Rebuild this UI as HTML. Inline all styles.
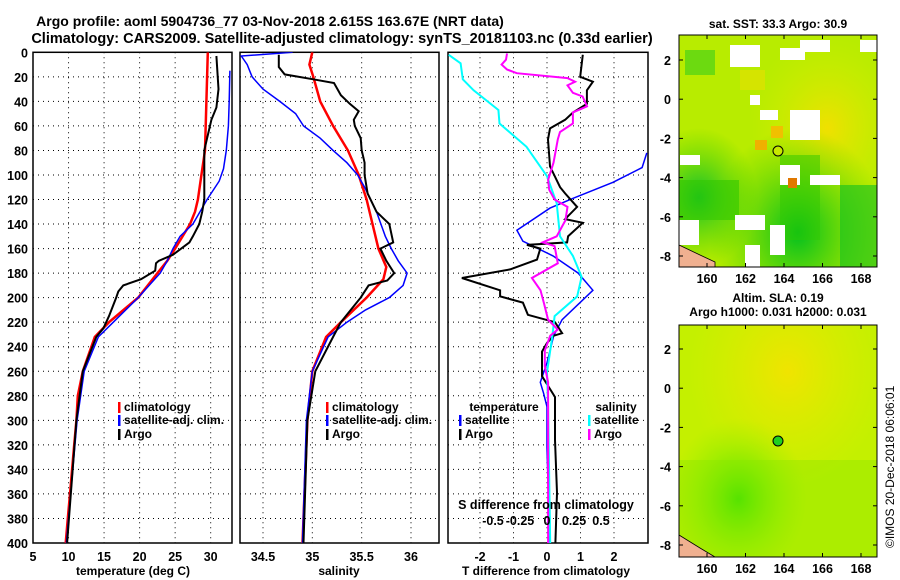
<!DOCTYPE html>
<html><head><meta charset="utf-8"><style>
body{margin:0;background:#fff;}
svg{display:block;font-family:"Liberation Sans",sans-serif;font-weight:bold;}
</style></head><body>
<svg id="c" width="900" height="580" xmlns="http://www.w3.org/2000/svg">
<defs>
<radialGradient id="m2a" cx="0.55" cy="0.2" r="0.5"><stop offset="0" stop-color="#f0e400"/><stop offset="1" stop-color="#e0ec00" stop-opacity="0"/></radialGradient>
<radialGradient id="m2b" cx="0.3" cy="0.75" r="0.35"><stop offset="0" stop-color="#40e000"/><stop offset="1" stop-color="#90f000" stop-opacity="0"/></radialGradient>
<radialGradient id="m1a" cx="0.75" cy="0.4" r="0.4"><stop offset="0" stop-color="#f0e000"/><stop offset="1" stop-color="#d0f000" stop-opacity="0"/></radialGradient>
<radialGradient id="m1b" cx="0.6" cy="0.85" r="0.45"><stop offset="0" stop-color="#00c020"/><stop offset="1" stop-color="#40d000" stop-opacity="0"/></radialGradient>
<radialGradient id="m1c" cx="0.1" cy="0.7" r="0.3"><stop offset="0" stop-color="#10c030"/><stop offset="1" stop-color="#40d000" stop-opacity="0"/></radialGradient>
</defs>
<text x="270" y="26" font-size="14" text-anchor="middle">Argo profile: aoml 5904736_77 03-Nov-2018 2.615S 163.67E (NRT data)</text>
<text x="342" y="43" font-size="14.5" text-anchor="middle">Climatology: CARS2009. Satellite-adjusted climatology: synTS_20181103.nc (0.33d earlier)</text>
<g id="p1"></g>
<g id="p2"></g>
<g id="p3"></g>

<g>
<text x="778" y="28" font-size="12" text-anchor="middle">sat. SST: 33.3 Argo: 30.9</text>
<rect x="679" y="35" width="198" height="232" fill="#b8ec00"/>
<rect x="679" y="35" width="198" height="232" fill="url(#m1a)"/>
<rect x="679" y="35" width="198" height="232" fill="url(#m1b)"/>
<rect x="679" y="35" width="198" height="232" fill="url(#m1c)"/>
<rect x="679" y="180" width="60" height="40" fill="#30c800" opacity="0.6"/>
<rect x="780" y="155" width="40" height="85" fill="#30c800" opacity="0.5"/>
<rect x="840" y="185" width="37" height="82" fill="#10c020" opacity="0.6"/>
<rect x="685" y="50" width="30" height="25" fill="#20c820" opacity="0.5"/>
<rect x="740" y="70" width="25" height="20" fill="#e8e000" opacity="0.6"/>
<rect x="730" y="45" width="30" height="22" fill="#fff"/>
<rect x="780" y="48" width="25" height="12" fill="#fff"/>
<rect x="800" y="40" width="30" height="12" fill="#fff"/>
<rect x="750" y="95" width="10" height="10" fill="#fff"/>
<rect x="760" y="110" width="18" height="10" fill="#fff"/>
<rect x="790" y="110" width="30" height="30" fill="#fff"/>
<rect x="680" y="155" width="20" height="10" fill="#fff"/>
<rect x="780" y="165" width="20" height="20" fill="#fff"/>
<rect x="810" y="175" width="30" height="10" fill="#fff"/>
<rect x="679" y="220" width="20" height="25" fill="#fff"/>
<rect x="735" y="215" width="30" height="15" fill="#fff"/>
<rect x="745" y="245" width="15" height="22" fill="#fff"/>
<rect x="770" y="225" width="15" height="30" fill="#fff"/>
<rect x="860" y="40" width="17" height="12" fill="#fff"/>
<rect x="771" y="126" width="12" height="12" fill="#f0c000"/>
<rect x="788" y="178" width="9" height="10" fill="#e07800"/>
<rect x="755" y="140" width="12" height="10" fill="#f0b000"/>
<path d="M679,245 L700,255 L715,262 L715,267 L679,267Z" fill="#f0b090" stroke="#000" stroke-width="0.8"/>
<rect x="679" y="35" width="198" height="232" fill="none" stroke="#000"/>
<circle cx="778" cy="151" r="5" fill="#c8e800" stroke="#000"/>
</g>
<g>
<text x="778" y="302" font-size="12" text-anchor="middle">Altim. SLA: 0.19</text>
<text x="778" y="316" font-size="12" text-anchor="middle">Argo h1000: 0.031 h2000: 0.031</text>
<rect x="679" y="325" width="198" height="232" fill="#c4f000"/>
<rect x="679" y="325" width="198" height="232" fill="url(#m2a)"/>
<rect x="679" y="325" width="198" height="232" fill="url(#m2b)"/>
<rect x="679" y="460" width="198" height="97" fill="#80e800" opacity="0.35"/>
<path d="M679,535 L700,548 L715,557 L679,557Z" fill="#f0b090" stroke="#000" stroke-width="0.8"/>
<rect x="679" y="325" width="198" height="232" fill="none" stroke="#000"/>
<circle cx="778" cy="441" r="5" fill="#20d020" stroke="#000"/>
</g>
<g id="maxes"></g>
<text x="0" y="0" font-size="12" font-weight="normal" transform="translate(894,548) rotate(-90)">©IMOS 20-Dec-2018 06:06:01</text>
</svg>
<script>
const depthTicks=[0,20,40,60,80,100,120,140,160,180,200,220,240,260,280,300,320,340,360,380,400];
const tTicks=[5,10,15,20,25,30];
const sTicks=[34.5,35,35.5,36];
const tdTicks=[-2,-1,0,1,2];
const sdTickLabels=[-0.5,-0.25,0,0.25,0.5];
const climTdepth=[0,80,100,120,130,140,160,170,180,200,220,232,260,280,300,320,340,360,380,400];
const climT=[29.6,29.2,28.7,28.2,27.8,27.1,25,23.9,22.5,19.8,15.7,13.7,12.0,11.3,11.1,10.8,10.5,10.2,9.9,9.6];
const satTdepth=[15,40,60,80,95,105,120,140,150,160,170,180,200,220,232,260,300,400];
const satT=[32.7,32.6,32.5,32.2,31.8,31.2,29.5,27.5,25.7,24.7,23.9,22.9,19.8,16.3,14.2,12.2,11.2,9.7];
const argoTdepth=[3,30,45,55,70,80,100,120,130,140,150,155,165,170,172,178,185,190,195,200,215,225,232,260,300,400];
const argoT=[30.8,31.1,30.8,30.1,29.5,29.1,29.1,29.1,28.8,28.4,27.5,27,24.7,22.7,22.3,22.2,20.2,17.7,17.0,16.7,15.7,14.9,13.9,12,11.1,9.8];
const climSdepth=[0,10,20,40,60,80,100,120,140,160,175,185,200,220,232,260,300,400];
const climS=[35.0,34.97,35.01,35.08,35.21,35.36,35.47,35.55,35.61,35.67,35.75,35.72,35.55,35.29,35.14,35.0,34.95,34.9];
const satSdepth=[0,3,10,20,30,40,50,60,70,80,90,100,110,130,150,160,170,180,190,200,210,220,232,260,300,400];
const satS=[34.8,34.28,34.34,34.39,34.5,34.67,34.83,34.91,35.08,35.21,35.35,35.46,35.53,35.65,35.74,35.8,35.87,35.96,35.92,35.78,35.54,35.35,35.16,35.0,34.94,34.9];
const argoSdepth=[2,12,18,22,25,35,42,48,55,60,70,80,90,100,115,130,140,155,160,170,180,186,190,200,210,220,232,260,300,400];
const argoS=[34.66,34.66,34.72,35.01,35.22,35.29,35.38,35.47,35.42,35.43,35.49,35.5,35.53,35.53,35.56,35.65,35.78,35.82,35.69,35.75,35.83,35.76,35.57,35.49,35.39,35.29,35.21,35.03,34.95,34.91];
const argoTdDepth=[2,20,24,31,42,49,55,62,71,93,110,115,126,136,139,150,155,157,160,169,177,184,194,199,204,214,216,220,229,231,237,244,264,281,316,359,400];
const argoTd=[1.07,0.99,1.37,1.19,1.19,0.78,0.54,0.09,0.03,0.09,0.39,0.54,0.9,0.54,1.07,0.63,0.6,-0.6,-0.2,-0.3,-1.1,-2.54,-1.4,-1.4,-0.72,-0.57,-0.3,0.24,0.45,0.2,0,-0.15,-0.15,0.24,0.24,0.3,0.25];
const satTdDepth=[82,94,106,119,127,145,154,166,180,194,218,231,253,269,278,289,322,400];
const satTd=[2.98,2.84,1.97,0.78,0.09,-0.9,-0.72,0.18,0.93,1.37,0.45,0.2,0,-0.2,-0.1,0,0,0.08];
const satSdDepth=[2,9,22,31,47,58,77,101,123,150,166,183,199,215,231,261,289,400];
const satSd=[-0.91,-0.8,-0.78,-0.68,-0.45,-0.44,-0.19,0,0.09,0.12,0.24,0.32,0.28,0.07,0.05,0,0.01,0.03];
const argoSdDepth=[1,6,10,14,17,21,24,27,33,36,44,49,58,65,71,90,104,112,120,126,137,150,155,158,172,184,194,204,218,226,231,243,256,269,400];
const argoSd=[-0.37,-0.38,-0.42,-0.37,-0.28,0.19,0.26,0.19,0.24,0.33,0.37,0.24,0.24,0.12,0.1,0.06,0.01,0.02,0.07,0.19,0.17,0.09,-0.04,0.07,0.1,-0.14,-0.06,-0.03,0.01,0.1,0.03,-0.02,-0.02,0.01,0.01];
const lonTicks=[160,162,164,166,168];
const latTicks=[2,0,-2,-4,-6,-8];

const NS='http://www.w3.org/2000/svg';
function mk(parent,tag,attrs,txt){const e=document.createElementNS(NS,tag);for(const k in attrs)e.setAttribute(k,attrs[k]);if(txt!==undefined)e.textContent=txt;parent.appendChild(e);return e;}
const Y0=52.3,Y1=543;
const yD=d=>Y0+(Y1-Y0)*d/400;
function lin(d0,d1,r0,r1){return v=>r0+(v-d0)*(r1-r0)/(d1-d0);}
const xT=lin(5,33,33,232), xS=lin(34.5,36,263,411), xTd=lin(0,2,547,614), xSd=lin(0,0.5,547,601);

function panel(g,x0,x1,xticks,xf,labels,showDepth){
  for(const d of depthTicks){
    if(d>0&&d<400){const l=mk(g,'line',{x1:x0,x2:x1,y1:yD(d),y2:yD(d),stroke:'#000','stroke-dasharray':'1,4','stroke-width':1});
    
    }
    if(showDepth){const t=mk(g,'text',{x:28,y:yD(d)+5,'font-size':12.5,'text-anchor':'end'},String(d));
    
    }
  }
  xticks.forEach((v,i)=>{const x=xf(v);
    const l=mk(g,'line',{x1:x,x2:x,y1:Y0,y2:Y1,stroke:'#000','stroke-dasharray':'1,4'});
    
    
    if(labels){const t=mk(g,'text',{x:x,y:561,'font-size':12.5,'text-anchor':'middle'},labels[i]);
    
    }
  });
  const r=mk(g,'rect',{x:x0,y:Y0,width:x1-x0,height:Y1-Y0,fill:'none',stroke:'#000','stroke-width':1.5});
  
  
}
function line(g,depths,vals,xf,color,name,w){
  const pts=depths.map((d,i)=>xf(vals[i]).toFixed(1)+','+yD(d).toFixed(1)).join(' ');
  const p=mk(g,'polyline',{points:pts,fill:'none',stroke:color,'stroke-width':w||2});
  
  
}
function legend(g,x,y,color,label){
  const r=mk(g,'rect',{x:x,y:y-9,width:2.5,height:11,fill:color});
  
  
  const t=mk(g,'text',{x:x+6,y:y,'font-size':12},label);
  
  
}
const p1=document.getElementById('p1'),p2=document.getElementById('p2'),p3=document.getElementById('p3');
panel(p1,33,232,tTicks,xT,tTicks.map(String),true);
const c1=document.createElementNS(NS,'clipPath');c1.id='cl1';p1.appendChild(c1);mk(c1,'rect',{x:33,y:Y0,width:199,height:Y1-Y0});
const g1=mk(p1,'g',{'clip-path':'url(#cl1)'});
line(g1,climTdepth,climT,xT,'#f00','climatology-temperature-line',2.5);
line(g1,satTdepth,satT,xT,'#00f','satellite-temperature-line',1.5);
line(g1,argoTdepth,argoT,xT,'#000','argo-temperature-line',2);
legend(p1,118,411,'#f00','climatology');legend(p1,118,424,'#00f','satellite-adj. clim.');legend(p1,118,438,'#000','Argo');
let t=mk(p1,'text',{x:133,y:575,'font-size':12,'text-anchor':'middle'},'temperature (deg C)');


panel(p2,240,439,sTicks,xS,['34.5','35','35.5','36'],false);
const c2=document.createElementNS(NS,'clipPath');c2.id='cl2';p2.appendChild(c2);mk(c2,'rect',{x:240,y:Y0,width:199,height:Y1-Y0});
const g2=mk(p2,'g',{'clip-path':'url(#cl2)'});
line(g2,climSdepth,climS,xS,'#f00','climatology-salinity-line',2.5);
line(g2,satSdepth,satS,xS,'#00f','satellite-salinity-line',1.5);
line(g2,argoSdepth,argoS,xS,'#000','argo-salinity-line',2);
legend(p2,326,411,'#f00','climatology');legend(p2,326,424,'#00f','satellite-adj. clim.');legend(p2,326,438,'#000','Argo');
t=mk(p2,'text',{x:339,y:575,'font-size':12,'text-anchor':'middle'},'salinity');


panel(p3,448,648,tdTicks,xTd,tdTicks.map(String),false);
const c3=document.createElementNS(NS,'clipPath');c3.id='cl3';p3.appendChild(c3);mk(c3,'rect',{x:448,y:Y0,width:200,height:Y1-Y0});
const g3=mk(p3,'g',{'clip-path':'url(#cl3)'});
line(g3,satTdDepth,satTd,xTd,'#00f','satellite-temperature-difference-line',1.5);
line(g3,argoTdDepth,argoTd,xTd,'#000','argo-temperature-difference-line',2);
line(g3,satSdDepth,satSd,xSd,'#0ff','satellite-salinity-difference-line',2);
line(g3,argoSdDepth,argoSd,xSd,'#f0f','argo-salinity-difference-line',2);
t=mk(p3,'text',{x:504,y:411,'font-size':12,'text-anchor':'middle'},'temperature');

t=mk(p3,'text',{x:616,y:411,'font-size':12,'text-anchor':'middle'},'salinity');

legend(p3,459,424,'#00f','satellite');legend(p3,459,438,'#000','Argo');
legend(p3,588,424,'#0ff','satellite');legend(p3,588,438,'#f0f','Argo');
t=mk(p3,'text',{x:546,y:509,'font-size':12.5,'text-anchor':'middle'},'S difference from climatology');

sdTickLabels.forEach(v=>{const tt=mk(p3,'text',{x:xSd(v),y:525,'font-size':12.5,'text-anchor':'middle'},String(v));

});
t=mk(p3,'text',{x:546,y:575,'font-size':12,'text-anchor':'middle'},'T difference from climatology');


const ma=document.getElementById('maxes');
const xLon=lin(160,168,707,861);
[[35,267,60],[325,557,349]].forEach(([top,bot,lat2])=>{
  const yLat=lin(2,-8,lat2,lat2+196);
  lonTicks.forEach(v=>{const x=xLon(v);
    mk(ma,'line',{x1:x,x2:x,y1:top,y2:top+4,stroke:'#000'});mk(ma,'line',{x1:x,x2:x,y1:bot,y2:bot-4,stroke:'#000'});
    const tt=mk(ma,'text',{x:x,y:bot+16,'font-size':12.5,'text-anchor':'middle'},String(v));
    
    });
  latTicks.forEach(v=>{const y=yLat(v);
    mk(ma,'line',{x1:679,x2:683,y1:y,y2:y,stroke:'#000'});mk(ma,'line',{x1:877,x2:873,y1:y,y2:y,stroke:'#000'});
    const tt=mk(ma,'text',{x:671,y:y+5,'font-size':12.5,'text-anchor':'end'},String(v));
    
    });
});
</script>
</body></html>
